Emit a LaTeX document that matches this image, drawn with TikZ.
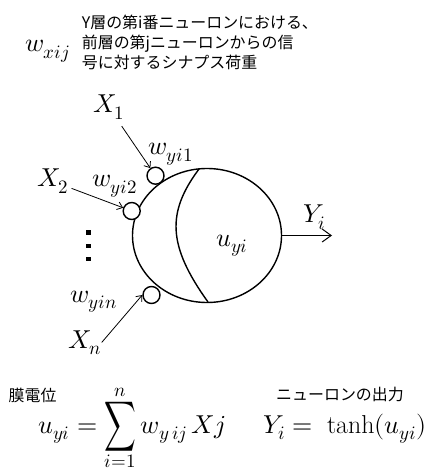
\documentclass[tikz,border=0pt]{standalone}
\usepackage{fontspec}
\usepackage{unicode-math}
\setmathfont{Latin Modern Math}
\newfontfamily\jp{Noto Sans CJK JP}
\usetikzlibrary{shapes.geometric,arrows.meta}
\DeclareMathSizes{26}{26}{19}{15}
\newcommand{\bigsigma}{\mathop{\vcenter{\hbox{\scalebox{0.85}[1.35]{$\displaystyle\sum$}}}}\limits}
\begin{document}
\begin{tikzpicture}[x=1bp,y=-1bp,
  lbl/.style={inner sep=0, font=\fontsize{26}{30}\selectfont},
  fml/.style={inner sep=0, font=\fontsize{26}{30}\selectfont},
  jptext/.style={inner sep=0, font=\jp\fontsize{16}{20}\selectfont, align=left},
  syn/.style={circle, draw, line width=1.4bp, fill=white, minimum size=17bp, inner sep=0},
  cellstyle/.style={draw, ellipse, line width=1.4bp, minimum width=149bp, minimum height=134bp, inner sep=0},
  arr/.style={line width=0.8bp, -{Straight Barb[length=5bp,width=8bp]}},
  outarr/.style={line width=1bp, -{Straight Barb[length=9bp,width=13bp]}}]
\useasboundingbox (0,0) rectangle (429,471);

% header
\node[jptext, anchor=west] (desc) at (81.7,42) {Y層の第i番ニューロンにおける、\\前層の第jニューロンからの信\\号に対するシナプス荷重};
\node[lbl, anchor=base west] (wxij) at (25,51.7) {$w_{xij}$};

% neuron
\node[cellstyle] (cell) at (207,235.5) {};
\draw[line width=1.4bp] (199,169) .. controls (167,212) and (167,245) .. (208,302);
\node[syn] (s1) at (155.5,175.7) {};
\node[syn] (s2) at (131.7,211) {};
\node[syn] (sn) at (151.5,295) {};

% labels
\node[lbl, anchor=base west] (x1) at (93,113) {$X_1$};
\node[lbl, anchor=base west] (x2) at (37,187) {$X_2$};
\node[lbl, anchor=base west] (xn) at (68,348) {$X_n$};
\node[lbl, anchor=base west] (w1) at (148,155) {$w_{yi1}$};
\node[lbl, anchor=base west] (w2) at (92,187) {$w_{yi2}$};
\node[lbl, anchor=base west] (wn) at (70,302) {$w_{yin}$};
\node[lbl, anchor=base west] (yi) at (303,223) {$Y_i$};
\node[lbl, anchor=base west] (u) at (216,246) {$u_{yi}$};

% dots
\fill (86,230) rectangle +(4.5,4.5);
\fill (86,243.5) rectangle +(4.5,4.5);
\fill (86,256.5) rectangle +(4.5,4.5);

% arrows
\draw[arr, shorten <=8bp] (x1) -- (s1);
\draw[arr, shorten <=3bp] (x2) -- (s2);
\draw[arr] (xn.east) -- (sn.west);
\coordinate (yend) at (332,235.5);
\draw[outarr] (cell.east) -- (yend);

% formulas
\node[jptext, anchor=west] (mak) at (8.5,395) {膜電位};
\node[jptext] (outl) at (340,394) {ニューロンの出力};
\node[fml, anchor=base west] (f1) at (38,433) {$u_{yi} = \bigsigma_{i=1}^{n} w_{y\,ij}\,Xj$};
\node[fml, anchor=base west] (f2) at (263,433) {$Y_i =\; \tanh(u_{yi})$};
\end{tikzpicture}
\end{document}
